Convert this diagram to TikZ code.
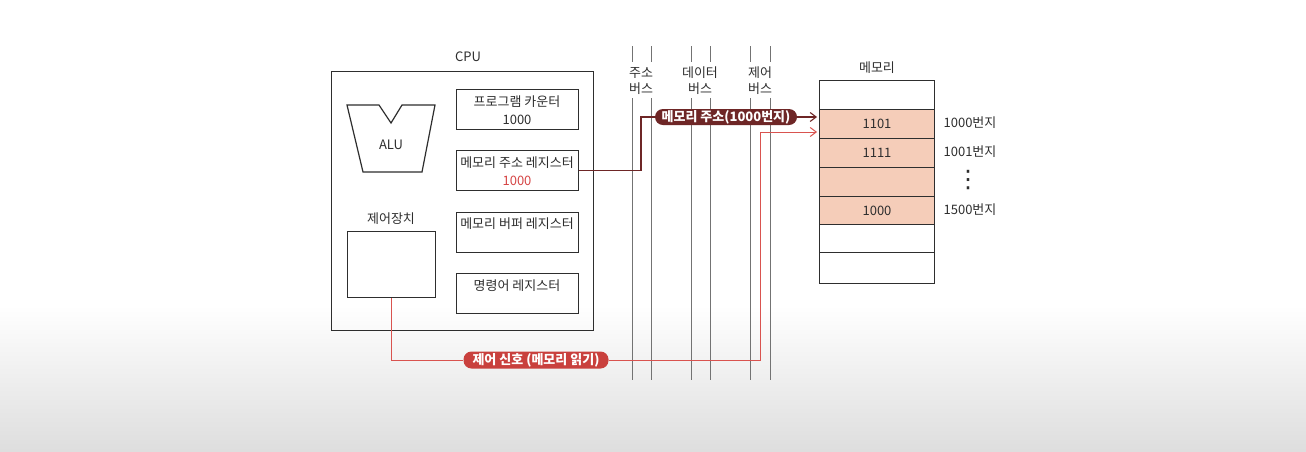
\documentclass[tikz,border=0pt]{standalone}
\usepackage{fontspec}
\setmainfont{Noto Sans CJK KR}
\newfontfamily\symfont{DejaVu Sans}
\usetikzlibrary{arrows.meta}
\definecolor{ink}{HTML}{2E2E2E}
\definecolor{peach}{HTML}{F5CDB9}
\definecolor{addrred}{HTML}{6E2626}
\definecolor{ctrlred}{HTML}{C9403D}
\definecolor{wirered}{HTML}{D9534F}
\definecolor{numred}{HTML}{D64545}
\begin{document}
\begin{tikzpicture}[x=1pt,y=-1pt,
  box/.style={draw=ink, line width=1.2pt, inner sep=0pt},
  regbox/.style={box, minimum width=122pt, minimum height=40pt, anchor=north west},
  txt/.style={text=ink, font=\fontsize{13}{18}\selectfont, inner sep=0pt, align=center},
  bustxt/.style={txt, font=\fontsize{13}{16}\selectfont},
  bus/.style={draw=black!55, line width=1pt},
  row/.style={draw=ink, line width=1pt, minimum width=115pt, anchor=north west, inner sep=0pt, text=ink, font=\fontsize{13}{15}\selectfont},
  filled/.style={fill=peach},
  pill/.style={rounded corners=8pt, text=white, font=\bfseries\fontsize{13}{15}\selectfont, inner sep=0pt, minimum height=16pt},
  addrwire/.style={draw=addrred, line width=1.1pt},
  ctrlwire/.style={draw=wirered, line width=1pt},
  tip/.style={-{Straight Barb[length=6pt,width=9pt]}}
]
\useasboundingbox (0,0) rectangle (1306,451);
\fill[white] (0,0) rectangle (1306,451);
\shade[top color=white,bottom color=black!13] (0,305) rectangle (1306,451);

% CPU
\node[txt] (cpulbl) at (468,57) {CPU};
\node[box, minimum width=262pt, minimum height=259pt, anchor=north west] (cpu) at (331,71) {};
\draw[box] (347,105) -- (379,105) -- (391,123) -- (402,105) -- (435,105) -- (422,172) -- (363,172) -- cycle;
\node[txt] (alu) at (391,145) {ALU};
\node[txt] (culbl) at (391,219) {제어장치};
\node[box, minimum width=88pt, minimum height=66pt, anchor=north west] (cu) at (347,231) {};

\node[regbox] (pc) at (456,89) {};
\node[txt] (pclbl) at (517,110) {프로그램 카운터\\1000};
\node[regbox] (mar) at (456,150) {};
\node[txt] (marlbl) at (517,171) {메모리 주소 레지스터\\\textcolor{numred}{1000}};
\node[regbox] (mbr) at (456,212) {};
\node[txt] (mbrlbl) at (517,224) {메모리 버퍼 레지스터};
\node[regbox] (ir) at (456,273) {};
\node[txt] (irlbl) at (517,286) {명령어 레지스터};

% buses
\foreach \bx in {632,651,691,710,750,770}{
  \draw[bus] (\bx,46) -- (\bx,62);
  \draw[bus] (\bx,98) -- (\bx,380);
}
\node[bustxt] (abuslbl) at (641,81) {주소\\버스};
\node[bustxt] (dbuslbl) at (700,81) {데이터\\버스};
\node[bustxt] (cbuslbl) at (760,81) {제어\\버스};

% memory
\node[txt] (memlbl) at (877,68) {메모리};
\node[row, minimum height=29pt] (r0) at (819,80) {};
\node[row, filled, minimum height=29pt] (r1) at (819,109) {1101};
\node[row, filled, minimum height=29pt] (r2) at (819,138) {1111};
\node[row, filled, minimum height=29pt] (r3) at (819,167) {};
\node[row, filled, minimum height=28pt] (r4) at (819,196) {1000};
\node[row, minimum height=28pt] (r5) at (819,224) {};
\node[row, minimum height=31pt] (r6) at (819,252) {};
\node[box, fill=none, minimum width=115pt, minimum height=203pt, anchor=north west] (mem) at (819,80) {};
\node[txt] (a1) at (970,123) {1000번지};
\node[txt] (a2) at (970,152) {1001번지};
\node[txt, font=\symfont\fontsize{24}{26}\selectfont] (a3) at (968,180) {⋮};
\node[txt] (a4) at (970,210) {1500번지};

% address wire
\node[pill, fill=addrred, minimum width=142pt] (apill) at (726,117) {메모리 주소(1000번지)};
\coordinate (mw) at (641,117);
\draw[addrwire] (mar.east) -| (mw) -- (apill.west);
\draw[addrwire, tip, shorten >=2pt] (apill.east) -- (apill.east -| mem.west);

% control wire
\node[pill, fill=ctrlred, minimum width=145pt, minimum height=17pt] (cpill) at (536,360) {제어 신호 (메모리 읽기)};
\coordinate (cw) at (760,132);
\draw[ctrlwire] (cu.south) |- (cpill.west);
\draw[ctrlwire, tip, shorten >=2pt] (cpill.east) -| (cw) -- (cw -| mem.west);
\end{tikzpicture}
\end{document}
